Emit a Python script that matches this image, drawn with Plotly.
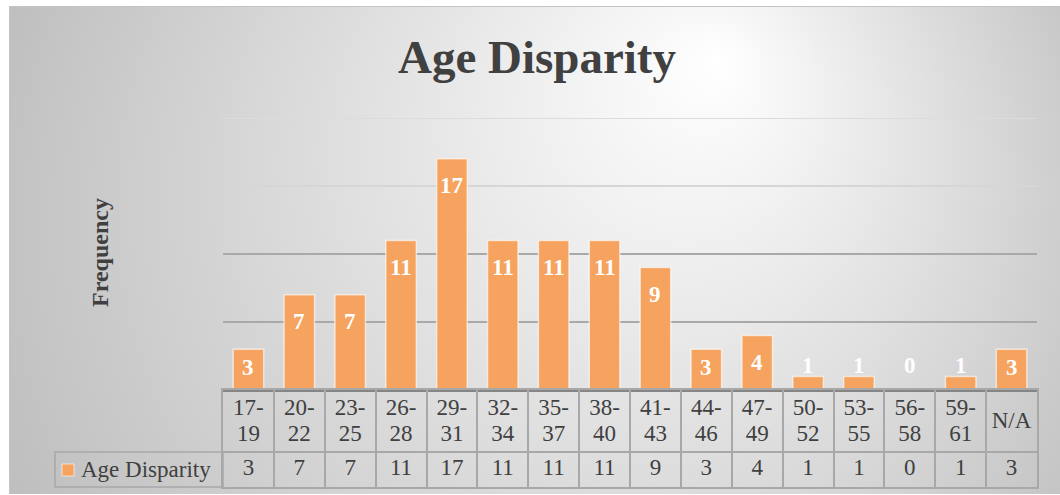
"""Age disparity histogram with an Excel-style data table underneath."""

import base64
import plotly.graph_objects as go

# ---- data ---------------------------------------------------------------
age_groups = ["17-19", "20-22", "23-25", "26-28", "29-31", "32-34", "35-37", "38-40",
              "41-43", "44-46", "47-49", "50-52", "53-55", "56-58", "59-61", "N/A"]
frequency = [3, 7, 7, 11, 17, 11, 11, 11, 9, 3, 4, 1, 1, 0, 1, 3]
series_name = "Age Disparity"
chart_title = "Age Disparity"
y_title = "Frequency"
grid_values = [5, 10, 15, 20]

# ---- style --------------------------------------------------------------
W, H = 1060, 495
SERIF = "Times New Roman, Liberation Serif, serif"
BAR_COLOR = "#F5A35E"
TEXT_COLOR = "#404040"
CELL_LINE = "#a8a8a8"
GRID_COLORS = ["#a9a9a9", "#a9a9a9", "#d6d6d6", "#dcdcdc"]
Y_MAX = 20


def px_x(x):
    return x / W


def px_y(y):
    return 1 - y / H


# plot area / table geometry in pixels
PLOT_L, PLOT_R = 223, 1037
PLOT_TOP, BASE = 118, 390
TABLE_BOTTOM = 487
ROW_SPLIT = 452  # border between header row and value row
TABLE_H = TABLE_BOTTOM - BASE
PX_PER_UNIT = (BASE - PLOT_TOP) / Y_MAX

# gradient background as a small inline svg
bg_svg = (
    '<svg xmlns="http://www.w3.org/2000/svg" width="1051" height="488">'
    '<defs><radialGradient id="g" gradientUnits="userSpaceOnUse" '
    'cx="551" cy="244" r="620" fx="711" fy="54">'
    '<stop offset="0" stop-color="#ffffff"/>'
    '<stop offset="1" stop-color="#bdbdbd"/>'
    '</radialGradient></defs>'
    '<rect x="0.5" y="0.5" width="1051" height="488" fill="url(#g)" '
    'stroke="#c4c4c4" stroke-width="1"/></svg>'
)
bg_uri = "data:image/svg+xml;base64," + base64.b64encode(bg_svg.encode()).decode()

fig = go.Figure()

# bars
fig.add_trace(
    go.Bar(
        x=age_groups,
        y=frequency,
        name=series_name,
        marker=dict(color=BAR_COLOR, line=dict(color="rgba(255,255,255,0.6)", width=1.5)),
        xaxis="x",
        yaxis="y",
        showlegend=False,
        hoverinfo="x+y",
    )
)

# data labels: inside end for bars tall enough, otherwise just above
label_font = dict(family=SERIF, size=23, color="white", weight="bold")
annotations = []
for cat, v in zip(age_groups, frequency):
    bar_px = v * PX_PER_UNIT
    if bar_px >= 40:
        annotations.append(dict(x=cat, y=v, xref="x", yref="y", text=str(v), showarrow=False,
                                yanchor="middle", yshift=-min(27, bar_px - 23), font=label_font))
    else:
        annotations.append(dict(x=cat, y=max(v, 1), xref="x", yref="y", text=str(v),
                                showarrow=False, yanchor="middle", yshift=11, font=label_font))

# data table text (header split over two lines, values row)
top_line, bottom_line, single_line = [], [], []
for label in age_groups:
    if "-" in label:
        a, b = label.split("-")
        top_line.append(a + "-")
        bottom_line.append(b)
        single_line.append("")
    else:
        top_line.append("")
        bottom_line.append("")
        single_line.append(label)

table_font = dict(family=SERIF, size=23, color=TEXT_COLOR)
for texts, ypos in [
    (top_line, TABLE_H - 19),
    (bottom_line, TABLE_H - 45),
    (single_line, TABLE_H - 32),
    ([str(v) for v in frequency], (TABLE_BOTTOM - ROW_SPLIT) / 2),
]:
    fig.add_trace(
        go.Scatter(
            x=age_groups,
            y=[ypos] * len(age_groups),
            text=texts,
            mode="text",
            textposition="middle center",
            textfont=table_font,
            xaxis="x2",
            yaxis="y2",
            showlegend=False,
            hoverinfo="skip",
        )
    )

# grid lines of the bar area
shapes = []
for val, col in zip(grid_values, GRID_COLORS):
    shapes.append(dict(type="line", xref="x domain", yref="y", x0=0, x1=1, y0=val, y1=val,
                       line=dict(color=col, width=2), layer="below"))

# legend cell of the data table
shapes.append(dict(type="rect", xref="paper", yref="paper",
                   x0=px_x(55), x1=px_x(PLOT_L), y0=px_y(TABLE_BOTTOM), y1=px_y(ROW_SPLIT),
                   line=dict(color=CELL_LINE, width=1.5)))
shapes.append(dict(type="rect", xref="paper", yref="paper",
                   x0=px_x(62), x1=px_x(74), y0=px_y(476), y1=px_y(464),
                   fillcolor=BAR_COLOR, line=dict(color="rgba(255,255,255,0.6)", width=1)))

annotations += [
    dict(text=series_name, xref="paper", yref="paper", x=px_x(79), y=px_y(469.5),
         xanchor="left", yanchor="middle", showarrow=False, font=table_font),
    dict(text=y_title, xref="paper", yref="paper", x=px_x(100), y=px_y(253),
         textangle=-90, showarrow=False, xanchor="center", yanchor="middle",
         font=dict(family=SERIF, size=24, color=TEXT_COLOR, weight="bold")),
]

fig.update_layout(
    width=W,
    height=H,
    autosize=False,
    margin=dict(l=0, r=0, t=0, b=0),
    paper_bgcolor="white",
    plot_bgcolor="rgba(0,0,0,0)",
    title=dict(
        text=chart_title,
        x=537 / W,
        xanchor="center",
        y=px_y(57),
        yanchor="middle",
        font=dict(family=SERIF, size=47, color=TEXT_COLOR, weight="bold"),
    ),
    bargap=0.4,
    showlegend=False,
    xaxis=dict(
        domain=[px_x(PLOT_L), px_x(PLOT_R)],
        range=[-0.5, len(age_groups) - 0.5],
        categoryorder="array",
        categoryarray=age_groups,
        showticklabels=False,
        showgrid=False,
        zeroline=False,
        anchor="y",
    ),
    yaxis=dict(
        domain=[px_y(BASE), px_y(PLOT_TOP)],
        range=[0, Y_MAX],
        showticklabels=False,
        showgrid=False,
        zeroline=True,
        zerolinecolor="#858585",
        zerolinewidth=2.5,
        anchor="x",
    ),
    xaxis2=dict(
        domain=[px_x(PLOT_L), px_x(PLOT_R)],
        range=[-0.5, len(age_groups) - 0.5],
        categoryorder="array",
        categoryarray=age_groups,
        tickson="boundaries",
        showticklabels=False,
        ticks="",
        showgrid=True,
        gridcolor=CELL_LINE,
        gridwidth=1.5,
        showline=True,
        mirror=True,
        linecolor=CELL_LINE,
        linewidth=1.5,
        zeroline=False,
        anchor="y2",
    ),
    yaxis2=dict(
        domain=[px_y(TABLE_BOTTOM), px_y(BASE)],
        range=[0, TABLE_H],
        tickvals=[TABLE_BOTTOM - ROW_SPLIT],
        showticklabels=False,
        ticks="",
        showgrid=True,
        gridcolor=CELL_LINE,
        gridwidth=1.5,
        showline=True,
        mirror=True,
        linecolor=CELL_LINE,
        linewidth=1.5,
        zeroline=False,
        anchor="x2",
    ),
    images=[dict(source=bg_uri, xref="paper", yref="paper", x=px_x(9), y=px_y(6),
                 sizex=1051 / W, sizey=488 / H, sizing="stretch", xanchor="left",
                 yanchor="top", layer="below")],
    shapes=shapes,
    annotations=annotations,
    font=dict(family=SERIF, color=TEXT_COLOR),
)

# drop the default page margin so the figure sits flush in the window
fig.write_html(
    "out.html",
    config={"displayModeBar": False},
    post_script="document.body.style.margin = '0';",
)
